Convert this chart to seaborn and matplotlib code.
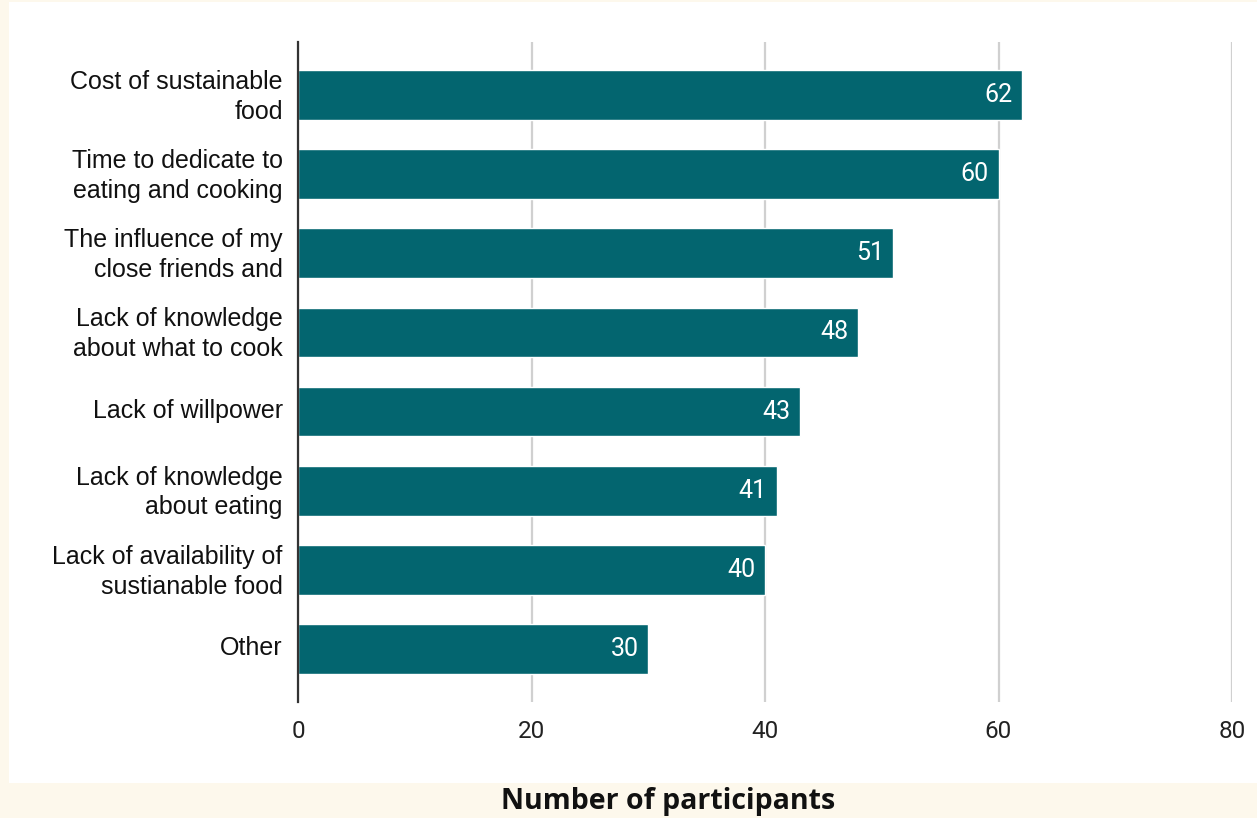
import matplotlib
matplotlib.use("Agg")
import matplotlib.pyplot as plt
import matplotlib.transforms as mtransforms
from matplotlib.patches import Rectangle
import seaborn as sns
import pandas as pd

categories = [
    "Cost of sustainable\nfood",
    "Time to dedicate to\neating and cooking",
    "The influence of my\nclose friends and",
    "Lack of knowledge\nabout what to cook",
    "Lack of willpower",
    "Lack of knowledge\nabout eating",
    "Lack of availability of\nsustianable food",
    "Other",
]
values = [62, 60, 51, 48, 43, 41, 40, 30]
x_ticks = [0, 20, 40, 60, 80]
x_label = "Number of participants"

df = pd.DataFrame({"category": categories, "value": values})

sns.set_theme(style="white")
plt.rcParams["font.family"] = ["Liberation Sans", "DejaVu Sans"]

W, H = 1257, 818
fig = plt.figure(figsize=(W / 100, H / 100), dpi=100)
fig.patch.set_facecolor("#fdf8ec")
fig.patches.append(Rectangle((9 / W, 1 - 783 / H), 1 - 9 / W, (783 - 2) / H,
                             transform=fig.transFigure, facecolor="white",
                             edgecolor="none", zorder=-10))

ax = fig.add_axes([298 / W, 1 - 702 / H, (1232 - 298) / W, (702 - 42) / H])
ax.set_facecolor("none")
ax.set_zorder(5)

sns.barplot(data=df, x="value", y="category", color="#03656f", saturation=1,
            width=0.63, ax=ax, zorder=3)

ax.set_xlim(0, 80)
ax.set_ylim(7.67, -0.67)
ax.set_xticks(x_ticks)
ax.set_xticklabels([str(t) for t in x_ticks], family="Roboto", fontsize=17.5, color="#222222")
ax.tick_params(axis="x", length=0, pad=13)
ax.set_yticks(range(len(categories)))
ax.set_yticklabels(categories, family="Liberation Sans", fontsize=18, color="#111111",
                   linespacing=1.3)
ax.tick_params(axis="y", length=0, pad=11)
shift = mtransforms.ScaledTranslation(0, 3.5 / 100, fig.dpi_scale_trans)
for lbl in ax.get_yticklabels():
    lbl.set_transform(lbl.get_transform() + shift)
ax.set_xlabel("")
ax.set_ylabel("")

ax.grid(axis="x", color="#d0d0d0", linewidth=1.6, zorder=0)
ax.grid(axis="y", visible=False)
for s in ["top", "right", "bottom"]:
    ax.spines[s].set_visible(False)
ax.spines["left"].set_color("#333333")
ax.spines["left"].set_linewidth(1.6)
ax.spines["left"].set_zorder(4)

texts = ax.bar_label(ax.containers[0], labels=[str(v) for v in values],
                     padding=-7, color="white", fontsize=18, family="Roboto")
for t in texts:
    t.set_ha("right")

fig.text(668 / W, 1 - 802 / H, x_label, ha="center", va="center",
         fontsize=20.5, fontweight="bold", family="Open Sans", color="#111111")

fig.savefig("out.png", dpi=100, facecolor=fig.get_facecolor())
